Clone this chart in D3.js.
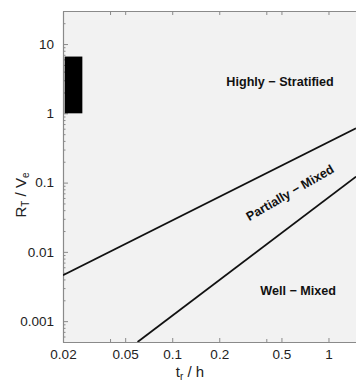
<!DOCTYPE html>
<html><head><meta charset="utf-8">
<script src="https://cdn.jsdelivr.net/npm/d3@7"></script>
<style>
body{margin:0;background:#fff;}
text{font-family:"Liberation Sans",Arial,sans-serif;}
</style></head>
<body><svg id="c" width="356" height="384"></svg>
<script>
// ---- data ----
const xDomain = [0.02, 1.5];
const yDomain = [0.0005, 30];
const xTickValues = [0.02, 0.05, 0.1, 0.2, 0.5, 1];
const xTickLabels = ["0.02", "0.05", "0.1", "0.2", "0.5", "1"];
const xMinorTicks = [0.04, 0.4];
const yTickValues = [0.001, 0.01, 0.1, 1, 10];
const yTickLabels = ["0.001", "0.01", "0.1", "1", "10"];
// boundary lines (t_r/h, R_T/V_e)
const upperLineT = [0.02, 1.5];
const upperLineR = [0.0046, 0.61];
const lowerLineT = [0.06, 1.5];
const lowerLineR = [0.0005, 0.122];
// data range box
const boxT = [0.0205, 0.0266];
const boxR = [1, 6.6];
// region labels
const regionNames = ["Highly − Stratified", "Partially − Mixed", "Well − Mixed"];
const regionT = [0.49, 0.568, 0.64];
const regionR = [2.86, 0.071, 0.00276];
const regionAngle = [0, -30, 0];

// ---- chart ----
const W = 356, H = 384;
const m = {top: 11, right: 0, bottom: 42, left: 63};
const svg = d3.select("#c");
const x = d3.scaleLog().domain(xDomain).range([m.left, W - m.right]);
const y = d3.scaleLog().domain(yDomain).range([H - m.bottom, m.top]);
const axisCol = "#8a8a8a";

svg.append("rect").attr("x", m.left).attr("y", m.top)
  .attr("width", W - m.right - m.left).attr("height", H - m.bottom - m.top)
  .attr("fill", "#f2f2f2");

svg.append("defs").append("clipPath").attr("id", "clip")
  .append("rect").attr("x", m.left).attr("y", m.top)
  .attr("width", W - m.right - m.left).attr("height", H - m.bottom - m.top);

// y minor ticks
const yMinor = [];
for (let e = -4; e <= 1; e++) for (let k = 2; k <= 9; k++) {
  const v = k * Math.pow(10, e);
  if (v >= yDomain[0] && v <= yDomain[1]) yMinor.push(v);
}

function styleAxis(g) {
  g.select(".domain").attr("stroke", axisCol).attr("stroke-width", 1.2);
  g.selectAll(".tick line").attr("stroke", axisCol);
  g.selectAll(".tick text").attr("fill", "#222").attr("font-size", 13.5)
    .attr("font-family", "'Liberation Sans',Arial,sans-serif");
}

// bottom axis
const gx = svg.append("g").attr("transform", `translate(0,${H - m.bottom})`)
  .call(d3.axisBottom(x).tickValues(xTickValues)
    .tickFormat((d, i) => xTickLabels[i]).tickSizeInner(-4).tickSizeOuter(0).tickPadding(7));
styleAxis(gx);
svg.append("g").attr("transform", `translate(0,${H - m.bottom})`)
  .call(d3.axisBottom(x).tickValues(xMinorTicks).tickFormat("").tickSizeInner(-3).tickSizeOuter(0))
  .call(g => { g.select(".domain").remove(); g.selectAll("line").attr("stroke", axisCol); });
// top axis
const gt = svg.append("g").attr("transform", `translate(0,${m.top})`)
  .call(d3.axisTop(x).tickValues(xTickValues.concat(xMinorTicks)).tickFormat("").tickSizeInner(-4).tickSizeOuter(0));
styleAxis(gt);

// left axis
const gy = svg.append("g").attr("transform", `translate(${m.left},0)`)
  .call(d3.axisLeft(y).tickValues(yTickValues)
    .tickFormat((d, i) => yTickLabels[i]).tickSizeInner(-5).tickSizeOuter(0).tickPadding(9));
styleAxis(gy);
svg.append("g").attr("transform", `translate(${m.left},0)`)
  .call(d3.axisLeft(y).tickValues(yMinor).tickFormat("").tickSizeInner(-2.5).tickSizeOuter(0))
  .call(g => { g.select(".domain").remove(); g.selectAll("line").attr("stroke", axisCol); });

// plot content
const plot = svg.append("g").attr("clip-path", "url(#clip)");
plot.append("rect")
  .attr("x", x(boxT[0])).attr("y", y(boxR[1]))
  .attr("width", x(boxT[1]) - x(boxT[0])).attr("height", y(boxR[0]) - y(boxR[1]))
  .attr("fill", "#000");

const line = d3.line().x(d => x(d[0])).y(d => y(d[1]));
[[upperLineT, upperLineR], [lowerLineT, lowerLineR]].forEach(([ts, rs]) => {
  plot.append("path").datum(ts.map((t, i) => [t, rs[i]]))
    .attr("d", line).attr("fill", "none").attr("stroke", "#111").attr("stroke-width", 1.8);
});

regionNames.forEach((name, i) => {
  const cx = x(regionT[i]), cy = y(regionR[i]);
  svg.append("text").attr("transform", `translate(${cx},${cy}) rotate(${regionAngle[i]})`)
    .attr("text-anchor", "middle").attr("dominant-baseline", "central")
    .attr("font-size", 12.6).attr("font-weight", "bold").attr("fill", "#111")
    .text(name);
});

// axis titles
const yl = svg.append("text").attr("transform", `translate(26,195) rotate(-90)`)
  .attr("text-anchor", "middle").attr("font-size", 15).attr("fill", "#222");
yl.append("tspan").text("R");
yl.append("tspan").attr("font-size", 10).attr("dy", 3).text("T");
yl.append("tspan").attr("dy", -3).text(" / V");
yl.append("tspan").attr("font-size", 10).attr("dy", 3).text("e");

const xl = svg.append("text").attr("x", 190).attr("y", 377)
  .attr("text-anchor", "middle").attr("font-size", 15).attr("fill", "#222");
xl.append("tspan").text("t");
xl.append("tspan").attr("font-size", 10).attr("dy", 3).text("r");
xl.append("tspan").attr("dy", -3).text(" / h");
</script></body></html>
